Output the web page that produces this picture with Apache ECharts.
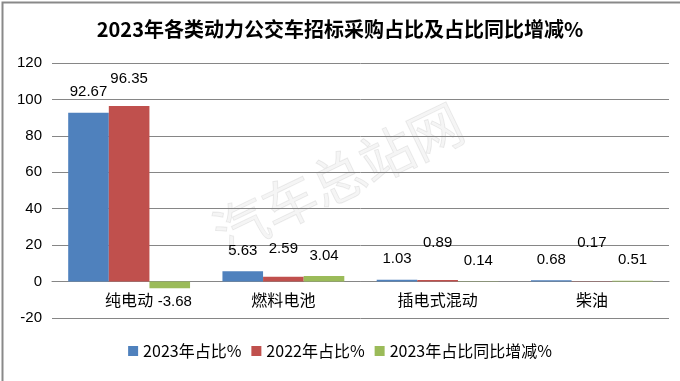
<!DOCTYPE html>
<html><head><meta charset="utf-8">
<script src="https://cdn.jsdelivr.net/npm/echarts@6/dist/echarts.min.js"></script>
<style>html,body{margin:0;padding:0;background:#fff}#c{width:680px;height:381px}</style>
</head><body><div id="c"></div>
<script>
var categories = ['纯电动', '燃料电池', '插电式混动', '柴油'];
var seriesNames = ['2023年占比%', '2022年占比%', '2023年占比同比增减%'];
var share2023 = [92.67, 5.63, 1.03, 0.68];
var share2022 = [96.35, 2.59, 0.89, 0.17];
var shareChange = [-3.68, 3.04, 0.14, 0.51];
var yTicks = {min: -20, max: 120, interval: 20};

// label nudges (style only)
var labelLift = [[0, 0, 0, 0], [-7, -7, -17, -18], [0, 0, 0, 0]];
var colors = ['#4F81BD', '#C0504D', '#9BBB59'];
var allData = [share2023, share2022, shareChange];

var chart = echarts.init(document.getElementById('c'));
var font = '"Noto Sans CJK SC", "Liberation Sans", sans-serif';
var numFont = '"Liberation Sans", sans-serif';
var gridTop = 63, gridBottom = 63, H = 381;
var zeroOffset = -(H - gridTop - gridBottom) * (0 - yTicks.min) / (yTicks.max - yTicks.min);
var series = allData.map(function (arr, s) {
  return {
    name: seriesNames[s], type: 'bar', barGap: '0%', barCategoryGap: '21%',
    itemStyle: {color: colors[s]},
    data: arr.map(function (v, i) {
      var neg = v < 0;
      return {
        value: v,
        label: {
          show: true, position: neg ? 'bottom' : 'top', distance: neg ? 6 : 13,
          offset: neg ? [5, 0] : [0, labelLift[s][i]],
          color: '#000', fontSize: 15, fontFamily: numFont
        }
      };
    })
  };
});
chart.setOption({
  animation: false,
  title: {text: '2023年各类动力公交车招标采购占比及占比同比增减%', left: 'center', top: 14,
    textStyle: {fontSize: 20, fontWeight: 'bold', fontFamily: font, color: '#000'}},
  grid: {left: 52, right: 11, top: gridTop, bottom: gridBottom},
  legend: {bottom: 17, itemWidth: 10, itemHeight: 10, itemGap: 10, icon: 'rect',
    textStyle: {fontSize: 16, fontFamily: font, color: '#000'}, data: seriesNames},
  xAxis: {type: 'category', data: categories, offset: zeroOffset,
    axisLine: {onZero: false, lineStyle: {color: '#868686'}}, axisTick: {show: false},
    axisLabel: {fontSize: 16, fontFamily: font, color: '#000', margin: 10}},
  yAxis: {type: 'value', min: yTicks.min, max: yTicks.max, interval: yTicks.interval,
    axisLine: {show: false}, axisTick: {show: false},
    splitLine: {lineStyle: {color: '#868686', width: 1}},
    axisLabel: {fontSize: 15, fontFamily: numFont, color: '#000', margin: 10}},
  graphic: [
    {type: 'text', x: 338, y: 178, rotation: 0.45, z: -1, silent: true,
      style: {text: '汽车总站网', fontSize: 54, fontFamily: font, align: 'center', verticalAlign: 'middle',
        fill: 'rgba(0,0,0,0.04)', stroke: 'rgba(0,0,0,0.08)', lineWidth: 1}},
    {type: 'rect', left: 0, top: 0, shape: {x: 0, y: 0, width: 679, height: 380},
      style: {fill: 'none', stroke: '#898989', lineWidth: 2}, silent: true}
  ],
  series: series
});
</script></body></html>
